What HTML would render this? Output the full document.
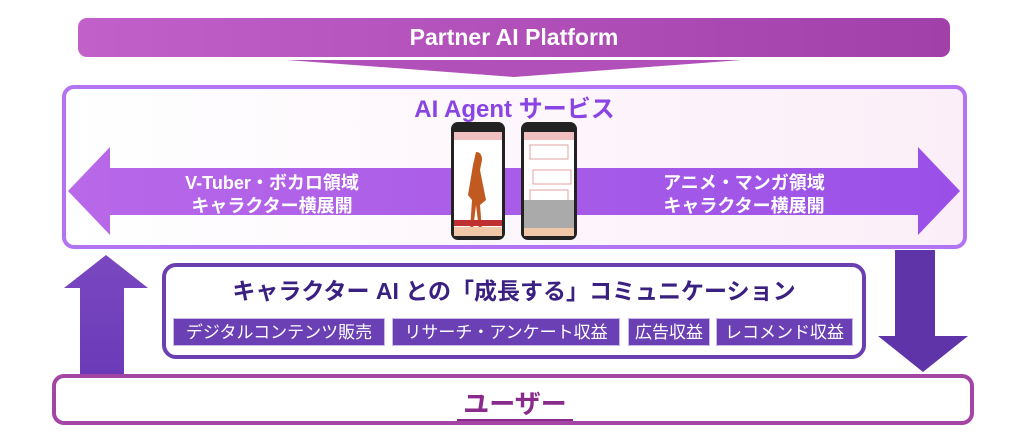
<!DOCTYPE html>
<html><head><meta charset="utf-8"><style>
body{margin:0;width:1024px;height:443px;background:#fff;position:relative;overflow:hidden;font-family:"Liberation Sans","Noto Sans CJK JP",sans-serif;font-weight:bold}
.a{position:absolute}
.tag{position:absolute;top:318px;height:28px;background:#6a40b4;color:#fff;font-size:17px;font-weight:normal;line-height:28px;text-align:center;border:1px solid #c9b8e8;box-sizing:border-box;white-space:nowrap;overflow:hidden}
</style></head><body>
<div class="a" style="left:78px;top:18px;width:872px;height:39px;border-radius:9px;background:linear-gradient(90deg,#c060c8,#a040a8);color:#fff;font-size:23px;line-height:39px;text-align:center">Partner AI Platform</div>
<svg class="a" style="left:0;top:0" width="1024" height="443">
<defs>
<linearGradient id="g1" x1="0" x2="1"><stop offset="0" stop-color="#b868e8"/><stop offset="1" stop-color="#9a50e8"/></linearGradient>
<linearGradient id="g2" x1="0" y1="1" x2="0" y2="0"><stop offset="0" stop-color="#6a3ab8"/><stop offset="1" stop-color="#7a48c0"/></linearGradient>
<linearGradient id="bg" x1="0" x2="1"><stop offset="0" stop-color="#fff"/><stop offset="1" stop-color="#fbeef8"/></linearGradient>
</defs>
<polygon points="287,60 742,60 514,77" fill="#b050b8"/>
<rect x="64" y="87" width="901" height="160" rx="10" fill="url(#bg)" stroke="#b274f2" stroke-width="4"/>
<polygon points="68,191 110,147 110,168 918,168 918,147 960,191 918,235 918,215 110,215 110,235" fill="url(#g1)"/>
<polygon points="64,288 106,255 148,288 124,288 124,376 80,376 80,288" fill="url(#g2)"/>
<polygon points="895,250 935,250 935,336 968,336 923,372 878,336 895,336" fill="#5e34a8"/>
<rect x="164" y="265" width="700" height="92" rx="12" fill="#fff" stroke="#6a3fb0" stroke-width="4"/>
<rect x="54" y="376" width="918" height="47" rx="10" fill="#fff" stroke="#a444a4" stroke-width="4"/>
<rect x="451" y="122" width="54" height="118" rx="7" fill="#222"/>
<rect x="454" y="132" width="48" height="104" fill="#fff"/>
<rect x="454" y="132" width="48" height="8" fill="#f0c0c0"/>
<path d="M476 152 q6 0 6 8 l-2 10 l6 30 l-6 5 l2 25 h-3 l-3-25 l-3 25 h-3 l2-30 l-4-5 l5-30 z" fill="#c05a20"/>
<rect x="454" y="220" width="48" height="6" fill="#c03030"/>
<rect x="454" y="227" width="48" height="9" fill="#f0c8a8"/>
<rect x="521" y="122" width="56" height="118" rx="7" fill="#222"/>
<rect x="524" y="132" width="50" height="104" fill="#fff"/>
<rect x="524" y="132" width="50" height="8" fill="#f0c0c0"/>
<rect x="530" y="145" width="38" height="14" fill="#fff" stroke="#e0a0a0"/>
<rect x="533" y="170" width="38" height="14" fill="#fff" stroke="#e0a0a0"/>
<rect x="530" y="190" width="38" height="14" fill="#fff" stroke="#e0a0a0"/>
<rect x="524" y="200" width="50" height="28" fill="#aaa"/>
<rect x="524" y="228" width="50" height="8" fill="#f0c8a8"/>
</svg>
<div class="a" style="left:0;width:1029px;top:89px;text-align:center;color:#8a44e4;font-size:24px">AI Agent サービス</div>
<div class="a" style="left:150px;width:244px;top:172px;text-align:center;color:#fff;font-size:18px;line-height:23px">V-Tuber・ボカロ領域<br>キャラクター横展開</div>
<div class="a" style="left:622px;width:244px;top:172px;text-align:center;color:#fff;font-size:18px;line-height:23px">アニメ・マンガ領域<br>キャラクター横展開</div>
<div class="a" style="left:164px;width:700px;top:272px;text-align:center;color:#3a2080;font-size:23px;white-space:nowrap">キャラクター AI との「成長する」コミュニケーション</div>
<div class="tag" style="left:173px;width:212px">デジタルコンテンツ販売</div>
<div class="tag" style="left:392px;width:228px">リサーチ・アンケート収益</div>
<div class="tag" style="left:628px;width:82px">広告収益</div>
<div class="tag" style="left:716px;width:137px">レコメンド収益</div>
<div class="a" style="left:0;width:1030px;top:384px;text-align:center;font-size:26px;color:#8a2a8a"><span style="border-bottom:2px solid #8a2a8a;padding:0 6px">ユーザー</span></div>
</body></html>
